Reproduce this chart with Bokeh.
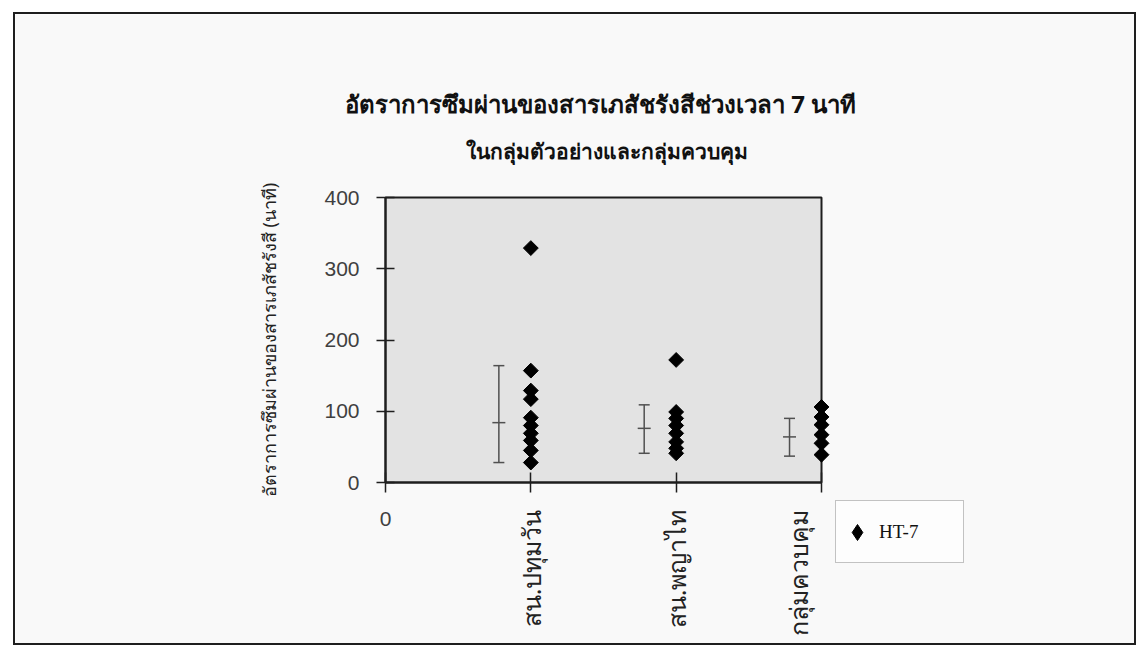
from math import pi
from bokeh.plotting import figure
from bokeh.models import (Range1d, FixedTicker, LinearAxis, Label, Legend,
                          LegendItem, BoxAnnotation)
from bokeh.embed import file_html
from bokeh.resources import INLINE

# ---------------- data ----------------
title_line1 = "อัตราการซึมผ่านของสารเภสัชรังสีช่วงเวลา 7 นาที"
title_line2 = "ในกลุ่มตัวอย่างและกลุ่มควบคุม"
y_title = "อัตราการซึมผ่านของสารเภสัชรังสี (นาที)"
categories = ["สน.ปทุมวัน", "สน.พญาไท", "กลุ่มควบคุม"]
series_name = "HT-7"

pathumwan = [329, 157, 129, 117, 91, 80, 69, 59, 45, 28]
phayathai = [172, 99, 90, 80, 69, 57, 48, 41]
control = [106, 92, 81, 67, 55, 39]

range_high = [164, 109, 90]
range_mean = [84, 76, 64]
range_low = [28, 41, 37]

y_ticks = [0, 100, 200, 300, 400]
x_ticks = [0, 1, 2, 3]
X_MIN, X_MAX = 0, 3
Y_MIN, Y_MAX = 0, 400

# ---------------- layout (pixels inside the canvas) ----------------
W, H = 1123, 633                     # canvas
PL, PR, PT, PB = 370, 806, 183, 468  # plot area box

sx = (X_MAX - X_MIN) / (PR - PL)
sy = (Y_MAX - Y_MIN) / (PB - PT)
x_range = Range1d(X_MIN - PL * sx, X_MAX + (W - PR) * sx)
y_range = Range1d(Y_MIN - (H - PB) * sy, Y_MAX + PT * sy)

p = figure(width=W, height=H, output_backend="svg", toolbar_location=None,
           title=None, x_range=x_range, y_range=y_range, min_border=0,
           background_fill_color="#f9f9f9", border_fill_color="#f9f9f9",
           outline_line_color=None)
p.styles = {"border": "2px solid #1e1e1e", "margin-left": "13px", "margin-top": "12px"}
p.grid.visible = False

# plot area
p.add_layout(BoxAnnotation(left=X_MIN, right=X_MAX, bottom=Y_MIN, top=Y_MAX,
                           fill_color="#e3e3e3", fill_alpha=1,
                           line_color="#1e1e1e", line_width=2, line_alpha=1,
                           level="underlay"))

groups = [pathumwan, phayathai, control]
xs, ys = [], []
for i, g in enumerate(groups):
    xs += [i + 1] * len(g)
    ys += g

# high-low-mean bars, to the left of each category
ex = [i + 1 - 0.22 for i in range(len(categories))]
p.segment(ex, range_low, ex, range_high, line_color="#505050", line_width=1.5)
p.scatter(ex, range_low, marker="dash", size=11, line_color="#505050", line_width=1.5)
p.scatter(ex, range_high, marker="dash", size=11, line_color="#505050", line_width=1.5)
p.scatter(ex, range_mean, marker="dash", size=13, line_color="#505050", line_width=1.5)

p.scatter(xs, ys, marker="square", angle=pi / 4, size=10.5,
          fill_color="black", line_color="black")
# legend key (diamond), drawn inside the first point so it adds nothing visible
r_key = p.scatter(x=[xs[0]], y=[ys[0]], marker="diamond", size=8,
                  fill_color="black", line_color="black")

thai_font = "Noto Sans"

# primary x axis: ticks + the horizontal "0"
xa = p.xaxis[0]
xa.fixed_location = 0
xa.bounds = (X_MIN, X_MAX)
xa.ticker = FixedTicker(ticks=x_ticks, minor_ticks=[])
xa.major_label_overrides = {1: "", 2: "", 3: ""}
xa.major_label_text_font = "Liberation Sans"
xa.major_label_text_font_size = "21px"
xa.major_label_text_color = "#404040"
xa.major_label_standoff = 19
xa.major_tick_in = 10
xa.major_tick_out = 10
xa.major_tick_line_color = "#1e1e1e"
xa.major_tick_line_width = 1.5
xa.axis_line_color = "#1e1e1e"
xa.axis_line_width = 2

# second x axis: rotated category names (the last one is pulled inside, as in the original)
label_pos = [1, 2, 3 - 0.16]
xb = LinearAxis(ticker=FixedTicker(ticks=label_pos, minor_ticks=[]),
                fixed_location=0, bounds=(X_MIN, X_MAX),
                major_label_overrides={pos: name for pos, name in zip(label_pos, categories)},
                major_label_orientation=pi / 2,
                major_label_text_font=thai_font,
                major_label_text_font_size="25px",
                major_label_text_color="#222222",
                major_label_standoff=27,
                major_tick_in=0, major_tick_out=0,
                major_tick_line_color=None, axis_line_color=None)
p.add_layout(xb, "below")

ya = p.yaxis[0]
ya.fixed_location = 0
ya.bounds = (Y_MIN, Y_MAX)
ya.ticker = FixedTicker(ticks=y_ticks, minor_ticks=[])
ya.major_label_text_font = "Liberation Sans"
ya.major_label_text_font_size = "21px"
ya.major_label_text_color = "#404040"
ya.major_label_standoff = 17
ya.major_tick_in = 9
ya.major_tick_out = 9
ya.major_tick_line_color = "#1e1e1e"
ya.major_tick_line_width = 1.5
ya.axis_line_color = "#1e1e1e"
ya.axis_line_width = 2
ya.axis_label = y_title
ya.axis_label_text_font = thai_font
ya.axis_label_text_font_size = "18px"
ya.axis_label_text_font_style = "normal"
ya.axis_label_text_color = "#222222"
ya.axis_label_standoff = 40

# titles
p.add_layout(Label(x=585, y=H - 89, x_units="screen", y_units="screen", text=title_line1,
                   text_align="center", text_baseline="middle", text_font=thai_font,
                   text_font_size="24px", text_font_style="bold", text_color="#111111"))
p.add_layout(Label(x=591, y=H - 136, x_units="screen", y_units="screen", text=title_line2,
                   text_align="center", text_baseline="middle", text_font=thai_font,
                   text_font_size="21px", text_font_style="bold", text_color="#111111"))

# legend
lg = Legend(items=[LegendItem(label=series_name, renderers=[r_key])],
            location=(820, 84), orientation="vertical",
            label_text_font="Liberation Serif", label_text_font_size="19px",
            label_text_color="#111111",
            border_line_color="#888888", border_line_width=1,
            background_fill_color="#fdfdfd", background_fill_alpha=1,
            glyph_width=40, glyph_height=40, padding=1, margin=0, spacing=0,
            label_standoff=2, label_width=83, label_height=59)
p.add_layout(lg, "center")

open("out.html", "w").write(file_html(p, INLINE))
